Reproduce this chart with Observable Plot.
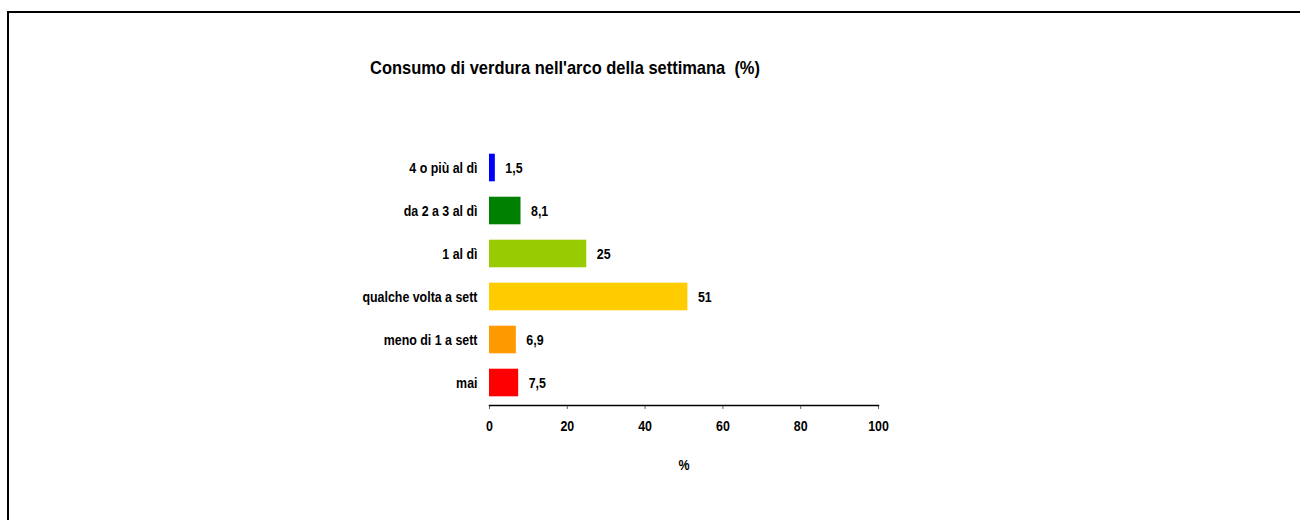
<!DOCTYPE html>
<html>
<head>
<meta charset="utf-8">
<script src="https://cdn.jsdelivr.net/npm/d3@7"></script>
<script src="https://cdn.jsdelivr.net/npm/@observablehq/plot@0.6"></script>
<style>
  html, body { margin: 0; padding: 0; background: #fff; }
  #wrap { position: relative; width: 1300px; height: 520px; overflow: hidden; background: #fff; }
  #frame { position: absolute; left: 7px; top: 11px; right: -10px; bottom: -10px; border-left: 2px solid #000; border-top: 2px solid #000; }
  #title { position: absolute; left: 370px; top: 57px; font-family: "Liberation Sans", Arial, sans-serif; font-weight: bold; font-size: 18.5px; color: #000; white-space: pre; transform-origin: 0 0; }
  #chart { position: absolute; left: 0; top: 0; }
  #chart svg text { font-family: "Liberation Sans", Arial, sans-serif; font-weight: bold; }
</style>
</head>
<body>
<div id="wrap">
  <div id="frame"></div>
  <div id="chart"></div>
  <div id="title">Consumo di verdura nell'arco della settimana  (%)</div>
</div>
<script>
const categories = ["4 o più al dì", "da 2 a 3 al dì", "1 al dì", "qualche volta a sett", "meno di 1 a sett", "mai"];
const values = [1.5, 8.1, 25, 51, 6.9, 7.5];
const valueLabels = ["1,5", "8,1", "25", "51", "6,9", "7,5"];
const colors = ["#0000FF", "#008000", "#99CC00", "#FFCC00", "#FF9900", "#FF0000"];
const xTicks = [0, 20, 40, 60, 80, 100];

const data = categories.map((c, i) => ({cat: c, value: values[i], label: valueLabels[i], color: colors[i]}));

const FS = 15.5;
const chart = Plot.plot({
  width: 1300,
  height: 520,
  marginLeft: 489,
  marginRight: 422,
  marginTop: 145,
  marginBottom: 115,
  style: {fontSize: FS + "px", background: "transparent", color: "#000"},
  x: {domain: [0, 100], ticks: xTicks},
  y: {domain: categories, padding: 0},
  marks: [
    Plot.barX(data, {x: "value", y: "cat", fill: "color", insetTop: 7.7, insetBottom: 7.7}),
    Plot.text(data, {x: "value", y: "cat", text: "label", textAnchor: "start", dx: 10, fontSize: FS, fontWeight: "bold", fill: "#000"}),
    Plot.axisY({tickSize: 0, tickPadding: 12, fontSize: FS, label: null}),
    Plot.axisX({ticks: xTicks, tickSize: 4, tickPadding: 10, fontSize: FS, stroke: "#666", label: "%", labelAnchor: "center", labelArrow: "none", labelOffset: 64}),
    Plot.frame({anchor: "bottom", stroke: "#000", strokeWidth: 1.5})
  ]
});
document.getElementById("chart").appendChild(chart);

// condense text to mimic the narrow bold face of the original
chart.querySelectorAll("text").forEach(t => {
  const len = t.getComputedTextLength();
  if (len > 0) {
    t.setAttribute("textLength", (len * 0.8).toFixed(2));
    t.setAttribute("lengthAdjust", "spacingAndGlyphs");
  }
});
const title = document.getElementById("title");
const tw = title.getBoundingClientRect().width;
title.style.transform = `scaleX(${390 / tw})`;
</script>
</body>
</html>
